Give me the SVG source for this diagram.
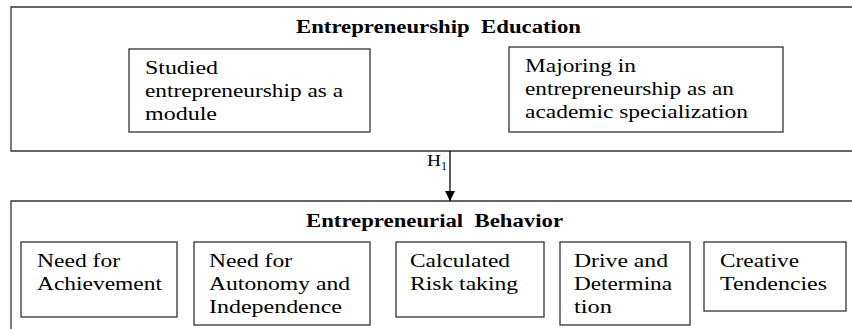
<svg xmlns="http://www.w3.org/2000/svg" width="852" height="329" viewBox="0 0 852 329">
<defs>
<style>
.box{fill:#fff;stroke:#333;stroke-width:1.3}
.c{stroke:#000;stroke-width:1.3;fill:none}
</style>
<marker id="arr" viewBox="0 0 10 10" refX="10" refY="5" markerWidth="10" markerHeight="10" markerUnits="userSpaceOnUse" orient="auto">
<path d="M0,0 L10,5 L0,10 z" fill="#000"/>
</marker>
</defs>
<rect width="852" height="329" fill="#fff"/>
<g id="education">
<path class="box" d="M860,7 H11 V151 H860"/>
<text x="296" y="33" font-family="Liberation Serif" font-size="18" font-weight="bold" xml:space="preserve" textLength="285" lengthAdjust="spacingAndGlyphs">Entrepreneurship  Education</text>
</g>
<g id="module">
<rect class="box" x="129" y="49" width="241" height="83"/>
<text x="145" y="74" font-family="Liberation Serif" font-size="19" textLength="73" lengthAdjust="spacingAndGlyphs">Studied</text>
<text x="145" y="97" font-family="Liberation Serif" font-size="19" textLength="198" lengthAdjust="spacingAndGlyphs">entrepreneurship as a</text>
<text x="145" y="120" font-family="Liberation Serif" font-size="19" textLength="72" lengthAdjust="spacingAndGlyphs">module</text>
</g>
<g id="majoring">
<rect class="box" x="509" y="47" width="274" height="85"/>
<text x="525" y="72" font-family="Liberation Serif" font-size="19" textLength="111" lengthAdjust="spacingAndGlyphs">Majoring in</text>
<text x="525" y="95" font-family="Liberation Serif" font-size="19" textLength="209" lengthAdjust="spacingAndGlyphs">entrepreneurship as an</text>
<text x="525" y="118" font-family="Liberation Serif" font-size="19" textLength="223" lengthAdjust="spacingAndGlyphs">academic specialization</text>
</g>
<g id="behavior">
<path class="box" d="M860,201 H11 V335"/>
<text x="306" y="227" font-family="Liberation Serif" font-size="18" font-weight="bold" xml:space="preserve" textLength="257" lengthAdjust="spacingAndGlyphs">Entrepreneurial  Behavior</text>
</g>
<g id="achievement">
<rect class="box" x="21" y="242" width="156" height="75"/>
<text x="37" y="267" font-family="Liberation Serif" font-size="19" textLength="83" lengthAdjust="spacingAndGlyphs">Need for</text>
<text x="37" y="290" font-family="Liberation Serif" font-size="19" textLength="125" lengthAdjust="spacingAndGlyphs">Achievement</text>
</g>
<g id="autonomy">
<rect class="box" x="194" y="242" width="176" height="83"/>
<text x="209" y="267" font-family="Liberation Serif" font-size="19" textLength="83" lengthAdjust="spacingAndGlyphs">Need for</text>
<text x="209" y="290" font-family="Liberation Serif" font-size="19" textLength="141" lengthAdjust="spacingAndGlyphs">Autonomy and</text>
<text x="209" y="313" font-family="Liberation Serif" font-size="19" textLength="133" lengthAdjust="spacingAndGlyphs">Independence</text>
</g>
<g id="risk">
<rect class="box" x="396" y="242" width="148" height="75"/>
<text x="410" y="267" font-family="Liberation Serif" font-size="19" textLength="100" lengthAdjust="spacingAndGlyphs">Calculated</text>
<text x="410" y="290" font-family="Liberation Serif" font-size="19" textLength="108" lengthAdjust="spacingAndGlyphs">Risk taking</text>
</g>
<g id="drive">
<rect class="box" x="560" y="242" width="130" height="83"/>
<text x="574" y="267" font-family="Liberation Serif" font-size="19" textLength="94" lengthAdjust="spacingAndGlyphs">Drive and</text>
<text x="574" y="290" font-family="Liberation Serif" font-size="19" textLength="98" lengthAdjust="spacingAndGlyphs">Determina</text>
<text x="574" y="313" font-family="Liberation Serif" font-size="19" textLength="38" lengthAdjust="spacingAndGlyphs">tion</text>
</g>
<g id="creative">
<rect class="box" x="704" y="242" width="142" height="69"/>
<text x="720" y="267" font-family="Liberation Serif" font-size="19" textLength="79" lengthAdjust="spacingAndGlyphs">Creative</text>
<text x="720" y="290" font-family="Liberation Serif" font-size="19" textLength="107" lengthAdjust="spacingAndGlyphs">Tendencies</text>
</g>
<g id="connectors">
<line class="c" x1="450" y1="151" x2="450" y2="201" marker-end="url(#arr)"/>
<text x="427" y="166" font-family="Liberation Serif" font-size="16" textLength="14" lengthAdjust="spacingAndGlyphs">H</text>
<text x="441" y="170" font-family="Liberation Serif" font-size="12">1</text>
</g>
</svg>
